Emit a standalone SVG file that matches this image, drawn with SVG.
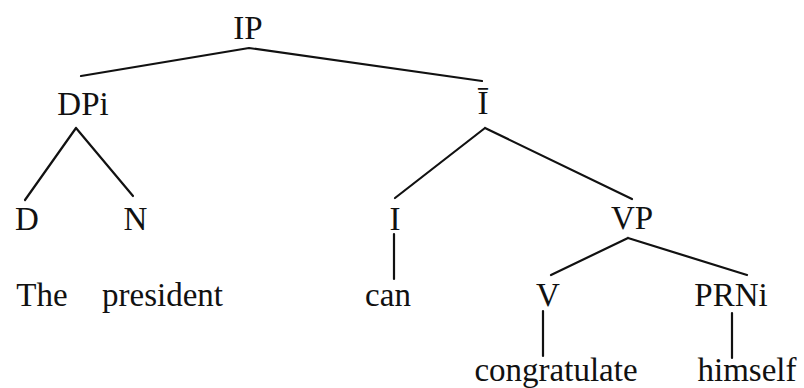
<svg xmlns="http://www.w3.org/2000/svg" width="804" height="388" viewBox="0 0 804 388">
<style>
text{font-family:"Liberation Serif","Times New Roman",serif;font-size:33px;fill:#111;text-anchor:middle}
.e{stroke:#111;stroke-width:2.2;fill:none;stroke-linecap:round}
</style>
<rect width="804" height="388" fill="#fff"/>
<g id="connectors">
<path class="e" d="M249 48L81 76M249 48L482 81"/>
<path class="e" d="M76 128L25 200M76 128L133 196"/>
<path class="e" d="M485 128L395 198M485 128L632 199"/>
<path class="e" d="M394 234L394 279"/>
<path class="e" d="M628 238L551 275M628 238L747 275"/>
<path class="e" d="M543 311L543 356"/>
<path class="e" d="M732 313L732 358"/>
</g>
<g id="IP"><text x="248" y="39">IP</text></g>
<g id="DPi"><text x="83" y="115">DPi</text></g>
<g id="Ibar"><text x="483" y="114">Ī</text></g>
<g id="D"><text x="27" y="230">D</text></g>
<g id="N"><text x="135.5" y="230">N</text></g>
<g id="I"><text x="395" y="230">I</text></g>
<g id="VP"><text x="632" y="229">VP</text></g>
<g id="The"><text x="42" y="306">The</text></g>
<g id="president"><text x="162.5" y="306">president</text></g>
<g id="can"><text x="388" y="306">can</text></g>
<g id="V"><text x="548" y="306">V</text></g>
<g id="PRNi"><text x="731" y="306">PRNi</text></g>
<g id="congratulate"><text x="556" y="381">congratulate</text></g>
<g id="himself"><text x="747" y="381">himself</text></g>
</svg>
